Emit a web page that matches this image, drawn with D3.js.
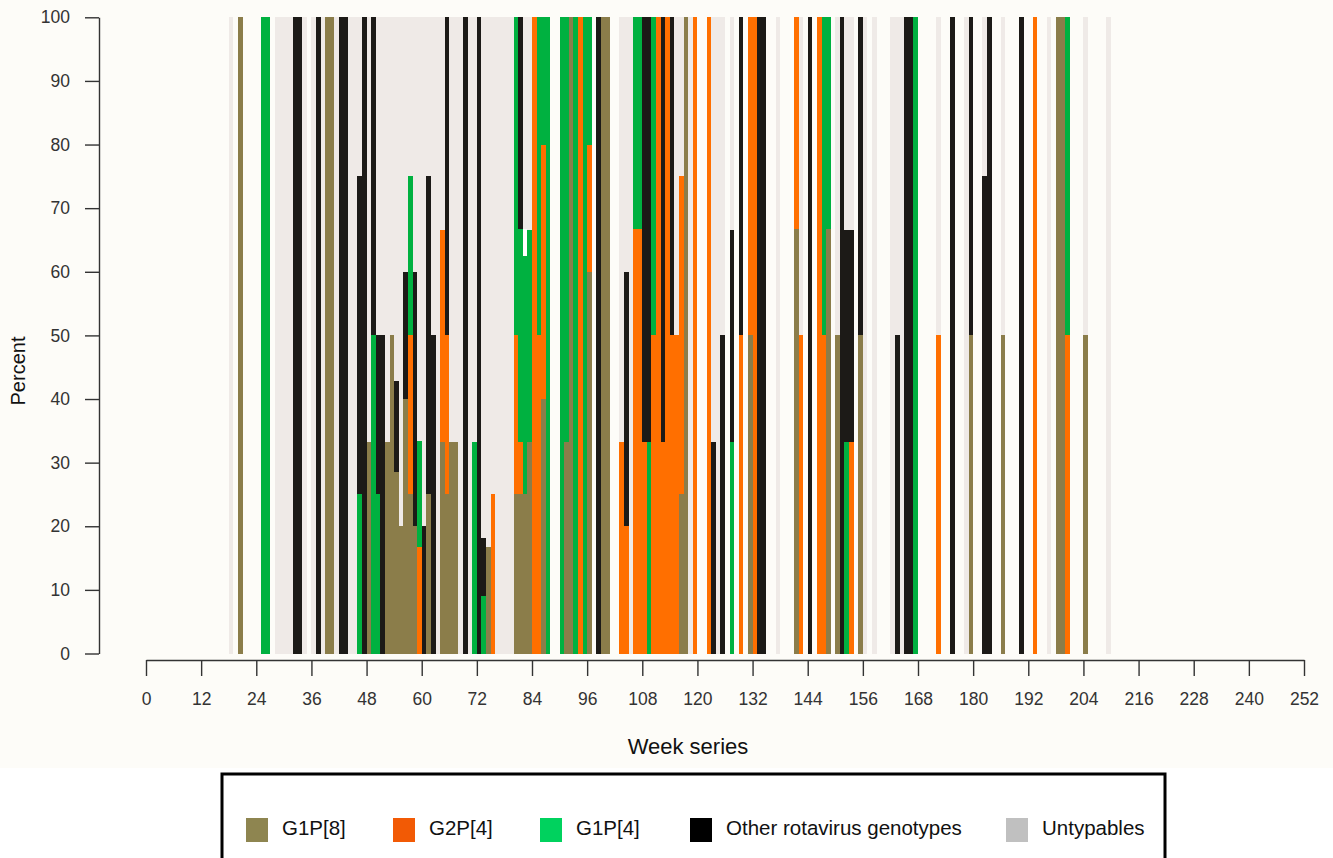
<!DOCTYPE html>
<html>
<head>
<meta charset="utf-8">
<script src="https://cdn.jsdelivr.net/npm/d3@7"></script>
<style>
  body { margin: 0; background: #ffffff; }
  svg { display: block; }
  text { font-family: "Liberation Sans", Arial, sans-serif; }
</style>
</head>
<body>
<svg id="chart" width="1333" height="858"></svg>
<script>
// Weekly rotavirus genotype distribution (percent of samples per week)
const weeks = [18,20,25,26,28,29,30,31,32,33,
  34,36,37,38,39,40,41,42,43,44,
  45,46,47,48,49,50,51,52,53,54,
  55,56,57,58,59,60,61,62,63,64,
  65,66,67,68,69,70,71,72,73,74,
  75,76,77,78,79,80,81,82,83,84,
  85,86,87,90,91,92,93,94,95,96,
  98,99,100,103,104,105,106,107,108,109,
  110,111,112,113,114,115,116,117,118,119,
  122,123,124,125,127,129,131,132,133,134,
  137,141,142,144,146,147,148,150,151,152,
  153,155,156,158,162,163,164,165,166,167,
  172,175,178,179,182,183,186,190,193,196,
  198,199,200,204,209];

const g1p8 = [0,100,0,0,0,0,0,0,0,0,
  0,0,0,0,100,100,0,0,0,0,
  0,0,0,33.3,0,0,0,33.3,50,28.6,
  20,40,25,20,0,0,25,0,0,33.3,
  25,33.3,33.3,0,0,0,0,0,0,16.7,
  0,0,0,0,0,25,25,25,33.3,0,
  0,40,0,0,33.3,100,0,0,0,60,
  0,100,100,0,0,0,0,0,0,0,
  0,0,0,0,0,0,25,100,0,0,
  0,0,0,0,0,0,50,0,0,0,
  0,66.7,0,0,0,0,66.7,50,0,0,
  0,50,0,0,0,0,0,0,0,0,
  0,0,0,50,0,0,50,0,0,0,
  100,100,0,50,0];

const g2p4 = [0,0,0,0,0,0,0,0,0,0,
  0,0,0,0,0,0,0,0,0,0,
  0,0,0,0,0,0,0,0,0,0,
  0,0,25,0,16.7,0,0,0,0,33.3,
  25,0,0,0,0,0,0,0,0,0,
  25,0,0,0,0,25,8.3,0,0,100,
  50,40,0,0,0,0,0,100,0,20,
  0,0,0,33.3,20,0,66.7,66.7,33.3,0,
  50,100,33.3,100,50,50,50,0,0,100,
  100,0,0,0,0,50,50,100,0,0,
  0,33.3,50,0,100,50,0,0,0,0,
  33.3,0,0,0,0,0,0,0,0,0,
  50,0,0,0,0,0,0,0,100,0,
  0,0,50,0,0];

const g1p4 = [0,0,100,100,0,0,0,0,0,0,
  0,0,0,0,0,0,0,0,0,0,
  0,25,0,0,50,25,0,0,0,0,
  0,0,25,0,16.7,0,0,0,0,0,
  0,0,0,0,0,0,33.3,0,9.1,0,
  0,0,0,0,0,50,33.4,37.5,33.3,0,
  50,20,100,100,66.7,0,100,0,100,20,
  0,0,0,0,0,0,33.3,33.3,0,33.3,
  50,0,0,0,0,0,0,0,0,0,
  0,0,0,0,33.3,0,0,0,0,0,
  0,0,0,0,0,50,33.3,0,0,33.3,
  0,0,0,0,0,0,0,0,0,100,
  0,0,0,0,0,0,0,0,0,0,
  0,0,50,0,0];

const other = [0,0,0,0,0,0,0,0,100,100,
  0,0,100,0,0,0,0,100,100,0,
  0,50,100,0,50,25,50,0,0,14.3,
  0,20,0,40,0,20,50,50,0,0,
  50,0,0,0,100,0,0,100,9.1,0,
  0,0,0,0,0,0,33.3,0,0,0,
  0,0,0,0,0,0,0,0,0,0,
  100,0,0,0,40,0,0,0,66.7,66.7,
  0,0,66.7,0,50,0,0,0,0,0,
  0,33.3,0,50,33.3,50,0,0,100,100,
  0,0,0,100,0,0,0,0,100,33.3,
  33.3,50,0,0,0,50,0,100,100,0,
  0,100,0,50,75,100,0,100,0,0,
  0,0,0,0,0];

// samples with no genotype entry (left blank in the stack)
const unrecorded = [0,0,0,0,0,0,0,0,0,0,
  0,0,0,0,0,0,0,0,0,0,
  0,0,0,0,0,0,0,0,0,0,
  0,0,0,0,0,0,0,0,0,0,
  0,0,0,0,0,0,0,0,0,0,
  0,0,0,0,0,0,0,4.2,0,0,
  0,0,0,0,0,0,0,0,0,0,
  0,0,0,0,0,0,0,0,0,0,
  0,0,0,0,0,0,0,0,0,0,
  0,0,0,0,0,0,0,0,0,0,
  0,0,0,0,0,0,0,0,0,0,
  0,0,0,0,0,0,0,0,0,0,
  0,0,0,0,0,0,0,0,0,0,
  0,0,0,0,0];

const untyp = [100,0,0,0,100,100,100,100,0,0,
  100,100,0,100,0,0,100,0,0,100,
  100,25,0,66.7,0,50,50,66.7,50,57.1,
  80,40,25,40,66.6,80,25,50,100,33.4,
  0,66.7,66.7,100,0,100,66.7,0,81.8,83.3,
  75,100,100,100,100,0,0,33.3,33.4,0,
  0,0,0,0,0,0,0,0,0,0,
  0,0,0,66.7,40,100,0,0,0,0,
  0,0,0,0,0,50,25,0,100,0,
  0,66.7,100,50,33.4,0,0,0,0,0,
  100,0,50,0,0,0,0,50,0,33.4,
  33.4,0,100,100,100,50,100,0,0,0,
  50,0,100,0,25,0,50,0,0,100,
  0,0,0,50,100];

const seriesKeys = ["g1p8", "g2p4", "g1p4", "other", "unrecorded", "untyp"];
const barColors = ["#8b7d4a", "#ff6f00", "#00b140", "#1c1a17", "#ffffff", "#efeae7"];
const legendNames = ["G1P[8]", "G2P[4]", "G1P[4]", "Other rotavirus genotypes", "Untypables"];
const legendColors = ["#8e8550", "#f25a05", "#00d25e", "#000000", "#c0c0c0"];
const xTicks = d3.range(0, 253, 12);
const yTicks = d3.range(0, 101, 10);

const svg = d3.select("#chart");
svg.append("rect").attr("width", 1333).attr("height", 768).attr("fill", "#fdfcf8");

const x = d3.scaleLinear().domain([0, 252]).range([146, 1304]);
const y = d3.scaleLinear().domain([0, 100]).range([653.5, 17.3]);

const rows = weeks.map((w, i) => ({
  week: w, g1p8: g1p8[i], g2p4: g2p4[i], g1p4: g1p4[i],
  other: other[i], unrecorded: unrecorded[i], untyp: untyp[i]
}));
const stacked = d3.stack().keys(seriesKeys)(rows);

// stacked weekly bars
svg.append("g")
  .selectAll("g")
  .data(stacked)
  .join("g")
  .attr("fill", (d, i) => barColors[i])
  .selectAll("rect")
  .data(d => d.filter(s => s[1] - s[0] > 0))
  .join("rect")
  .attr("x", d => x(d.data.week))
  .attr("width", d => x(d.data.week + 1) - x(d.data.week))
  .attr("y", d => y(Math.min(d[1], 100)))
  .attr("height", d => y(d[0]) - y(Math.min(d[1], 100)))
  .attr("shape-rendering", "crispEdges");

// y axis
const yAxis = svg.append("g")
  .attr("transform", "translate(99,0)")
  .call(d3.axisLeft(y).tickValues(yTicks).tickSize(14).tickSizeOuter(0).tickPadding(15));

// x axis
const xAxis = svg.append("g")
  .attr("transform", "translate(0,660)")
  .call(d3.axisBottom(x).tickValues(xTicks).tickSize(16).tickSizeOuter(0).tickPadding(17));

[yAxis, xAxis].forEach(g => {
  g.selectAll("path, line").attr("stroke", "#333").attr("stroke-width", 1.4);
  g.selectAll("text").attr("fill", "#333").attr("font-size", 17.5)
    .attr("font-family", "'Liberation Sans', Arial, sans-serif");
});

svg.append("text")
  .attr("x", 688).attr("y", 748)
  .attr("text-anchor", "middle").attr("dominant-baseline", "middle")
  .attr("font-size", 22).attr("fill", "#111")
  .text("Week series");

svg.append("text")
  .attr("transform", "translate(20,371) rotate(-90)")
  .attr("text-anchor", "middle").attr("dominant-baseline", "middle")
  .attr("font-size", 20).attr("fill", "#111")
  .text("Percent");

// legend
const legend = svg.append("g");
legend.append("rect")
  .attr("x", 222).attr("y", 774).attr("width", 943).attr("height", 100)
  .attr("fill", "#ffffff").attr("stroke", "#000").attr("stroke-width", 3);

const legendX = [246, 393, 540, 690, 1006];
const item = legend.selectAll("g.item")
  .data(legendNames)
  .join("g")
  .attr("class", "item")
  .attr("transform", (d, i) => `translate(${legendX[i]},830)`);
item.append("rect")
  .attr("x", 0).attr("y", -12).attr("width", 22).attr("height", 24)
  .attr("fill", (d, i) => legendColors[i]);
item.append("text")
  .attr("x", 36).attr("y", 0)
  .attr("dominant-baseline", "middle")
  .attr("font-size", 20.5).attr("fill", "#111")
  .attr("font-family", "'Open Sans', 'Liberation Sans', sans-serif")
  .text(d => d);
</script>
</body>
</html>
